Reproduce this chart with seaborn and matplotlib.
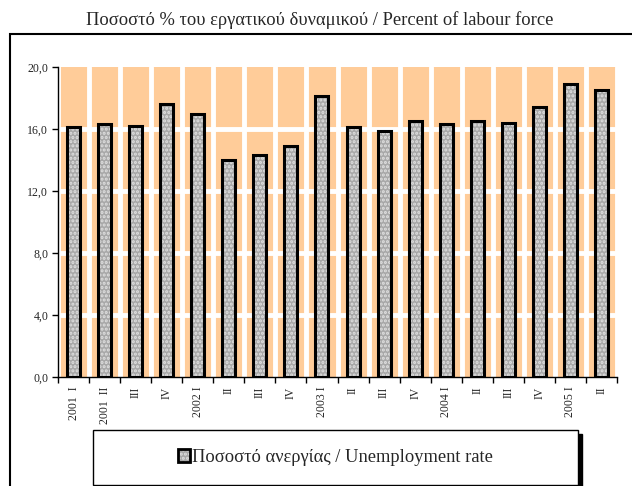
import numpy as np
import matplotlib
matplotlib.use('Agg')
import matplotlib.pyplot as plt
import seaborn as sns
from matplotlib.patches import Rectangle, Patch
from matplotlib.legend_handler import HandlerTuple

# Data
quarters = ['2001  I', '2001  II', 'III', 'IV', '2002 I', 'II', 'III', 'IV',
            '2003 I', 'II', 'III', 'IV', '2004 I', 'II', 'III', 'IV',
            '2005 I', 'II']
rate = [16.1, 16.3, 16.2, 17.6, 17.0, 14.0, 14.3, 14.9, 18.1,
        16.1, 15.9, 16.5, 16.3, 16.5, 16.4, 17.4, 18.9, 18.5]
yticks = [0, 4, 8, 12, 16, 20]
ytick_labels = ['0,0', '4,0', '8,0', '12,0', '16,0', '20,0']

sns.set_style('white')
plt.rcParams['font.family'] = ['Liberation Serif', 'DejaVu Serif']
plt.rcParams['hatch.linewidth'] = 1.5

fig = plt.figure(figsize=(6.32, 4.86), dpi=100)
ax = fig.add_axes([58 / 632, 1 - 377 / 486, (617 - 58) / 632, (377 - 67) / 486])
ax.set_facecolor('#FFCC99')

pos = np.arange(len(rate))
bar_grey = '#A8A8A8'

# filled hatched layer, then black outline layer
sns.barplot(x=pos, y=rate, ax=ax, width=0.42, color=bar_grey, saturation=1,
            edgecolor='#E0E0E0', linewidth=0, hatch='....', zorder=3)
sns.barplot(x=pos, y=rate, ax=ax, width=0.42, fill=False, color='black',
            edgecolor='black', linewidth=2.2, zorder=4)

ax.set_xlim(-0.5, len(rate) - 0.5)
ax.set_ylim(0, 20)
ax.set_yticks(yticks)
ax.set_yticklabels(ytick_labels, fontsize=8.6)
ax.set_xticks(pos)
ax.set_xticklabels(quarters, rotation=90, fontsize=8.5, va='top', ha='center')
ax.set_xticks(np.arange(len(rate) + 1) - 0.5, minor=True)
ax.tick_params(axis='x', which='major', length=0, pad=7)
ax.tick_params(axis='x', which='minor', length=4, width=1, color='black', direction='out', bottom=True)
ax.tick_params(axis='y', which='major', length=4, width=1, color='black', direction='out', left=True, pad=3)
ax.set_xlabel('')
ax.set_ylabel('')

# white grid
ax.set_axisbelow(True)
for y in yticks[1:-1]:
    ax.axhline(y, color='white', lw=3.5, zorder=1)
ax.grid(axis='x', which='minor', color='white', lw=3.5, zorder=1)
ax.grid(axis='x', which='major', visible=False)

for s in ['top', 'right']:
    ax.spines[s].set_visible(False)
for s in ['left', 'bottom']:
    ax.spines[s].set_color('black')
    ax.spines[s].set_linewidth(1)
    ax.spines[s].set_zorder(5)

fig.text(320 / 632, 1 - 20 / 486, 'Ποσοστό % του εργατικού δυναμικού / Percent of labour force',
         ha='center', va='center', fontsize=13.3)

# outer frame
fig.patches.append(Rectangle((10 / 632, -0.1), 1.2, 1.1 - 34 / 486,
                             transform=fig.transFigure, fill=False, ec='black', lw=1.5, zorder=0))

# legend box with shadow
lx0, lx1, ly0, ly1 = 93, 578, 430, 485
fig.patches.append(Rectangle(((lx0 + 4) / 632, 1 - (ly1 + 4) / 486), (lx1 - lx0) / 632, (ly1 - ly0) / 486,
                             transform=fig.transFigure, fc='black', ec='black', lw=1, zorder=1))
fig.patches.append(Rectangle((lx0 / 632, 1 - ly1 / 486), (lx1 - lx0) / 632, (ly1 - ly0) / 486,
                             transform=fig.transFigure, fc='white', ec='black', lw=1, zorder=2))

h_fill = Patch(facecolor=bar_grey, edgecolor='#E0E0E0', hatch='....', lw=0)
h_edge = Patch(facecolor='none', edgecolor='black', lw=2)
leg = fig.legend(handles=[(h_fill, h_edge)], labels=['Ποσοστό ανεργίας / Unemployment rate'],
                 handler_map={tuple: HandlerTuple(ndivide=1)},
                 loc='center', bbox_to_anchor=((lx0 + lx1) / 2 / 632, 1 - (ly0 + ly1) / 2 / 486),
                 bbox_transform=fig.transFigure, frameon=False, fontsize=13.3,
                 handlelength=0.65, handleheight=0.65, handletextpad=0.15)
leg.set_zorder(10)

fig.savefig('out.png', dpi=100)
